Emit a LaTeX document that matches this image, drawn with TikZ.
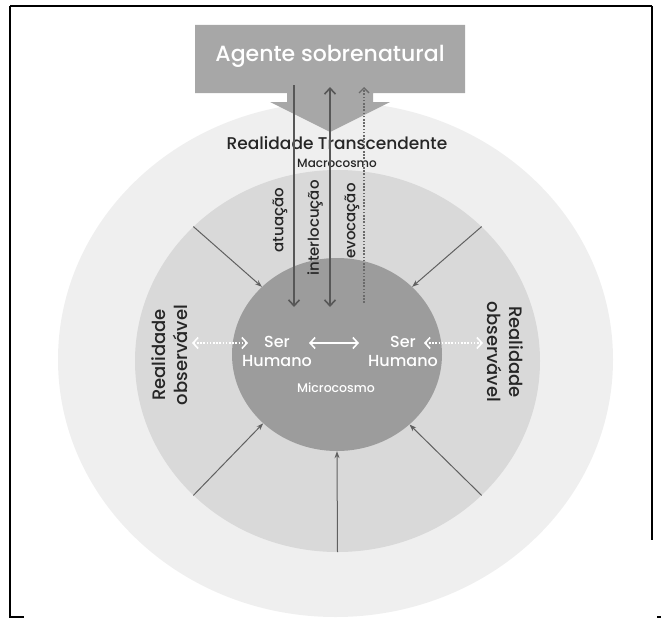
\documentclass[tikz,border=0pt]{standalone}
\usepackage{fontspec}
\setmainfont{Poppins}[UprightFont={* Medium}, BoldFont={* SemiBold}]
\usetikzlibrary{arrows.meta,shapes.geometric}

\definecolor{outerring}{HTML}{EFEFEF}
\definecolor{midring}{HTML}{D9D9D9}
\definecolor{core}{HTML}{9C9C9C}
\definecolor{agentgray}{HTML}{A7A7A7}
\definecolor{darkline}{HTML}{575757}
\definecolor{dotline}{HTML}{6A6A6A}
\definecolor{radialline}{HTML}{606060}
\definecolor{labeltext}{HTML}{262626}

\tikzset{
  ring/.style={ellipse, inner sep=0pt, draw=none},
  flowarrow/.style={draw=darkline, line width=2pt,
    -{Straight Barb[length=6pt, width=11pt, line width=1.6pt]}},
  bothflow/.style={draw=darkline, line width=2pt,
    {Straight Barb[length=6pt, width=11pt, line width=1.6pt]}-{Straight Barb[length=6pt, width=11pt, line width=1.6pt]}},
  dottedflow/.style={draw=dotline, line width=2pt, dash pattern=on 1.6pt off 1.6pt,
    -{Straight Barb[length=5pt, width=10pt, line width=1.4pt]}},
  radial/.style={draw=radialline, line width=1pt, -{Stealth[length=7pt, width=5pt]}},
  whitedot/.style={draw=white, line width=2pt, dash pattern=on 1.6pt off 1.6pt,
    {Straight Barb[length=5pt, width=11pt, line width=1.6pt]}-{Straight Barb[length=5pt, width=11pt, line width=1.6pt]}},
  whitesolid/.style={draw=white, line width=2pt,
    {Straight Barb[length=5pt, width=11pt, line width=1.6pt]}-{Straight Barb[length=5pt, width=11pt, line width=1.6pt]}},
  vlabel/.style={text=labeltext, font=\fontsize{15}{17}\selectfont, inner sep=0pt, rotate=90},
  sidelabel/.style={text=labeltext, font=\fontsize{18}{22}\selectfont, align=center, inner sep=0pt},
  humanlabel/.style={text=white, font=\fontsize{16}{19}\selectfont, align=center, inner sep=0pt},
}

\begin{document}
\begin{tikzpicture}[x=1pt, y=-1pt]
  \useasboundingbox (0,0) rectangle (661,618);

  % frame lines
  \draw[black, line width=2.5pt] (10,6) -- (652,6);
  \draw[black, line width=2pt] (10,6) -- (10,617) -- (24,617);
  \draw[black, line width=2pt] (652,6) -- (652,540);
  \draw[black, line width=1.5pt] (657,617) -- (661,617);

  % concentric rings
  \node[ring, fill=outerring, minimum width=555pt, minimum height=515pt] (macro) at (335.5,359.5) {};
  \node[ring, fill=midring, minimum width=405pt, minimum height=382pt] (mid) at (337.5,361) {};
  \node[ring, fill=core, minimum width=210pt, minimum height=193pt] (micro) at (337,354.5) {};

  % supernatural agent box with its downward arrow
  \fill[agentgray] (195,25) -- (465,25) -- (465,93) -- (373,93) -- (373,102)
    -- (390,102) -- (330,132) -- (270,102) -- (287,102) -- (287,93)
    -- (195,93) -- cycle;
  \node[text=white, font=\fontsize{22}{26}\selectfont, anchor=base] (agent) at (330,62) {Agente sobrenatural};

  % headings
  \node[text=labeltext, font=\fontsize{17}{20}\selectfont, anchor=base] (transc) at (337,149) {Realidade Transcendente};
  \node[text=labeltext, font=\fontsize{12}{14}\selectfont, anchor=base] (macrolabel) at (337,167) {Macrocosmo};

  % radial influences toward the microcosm
  \draw[radial] (mid.137) -- (micro.138);
  \draw[radial] (mid.43) -- (micro.42);
  \draw[radial] (mid.223) -- (micro.223.5);
  \draw[radial] (mid.317) -- (micro.316.5);
  \draw[radial] (mid.270) -- (micro.270);

  % vertical relations with the agent
  \coordinate (actA) at (294,85);
  \coordinate (actB) at (294,307);
  \coordinate (intA) at (330,87);
  \coordinate (intB) at (330,307);
  \coordinate (evoA) at (364,303);
  \coordinate (evoB) at (364,87);
  \draw[flowarrow] (actA) -- (actB);
  \draw[bothflow] (intA) -- (intB);
  \draw[dottedflow] (evoA) -- (evoB);

  \node[vlabel] (atua) at (280,220) {atuação};
  \node[vlabel] (inter) at (315,228) {interlocução};
  \node[vlabel] (evoc) at (352,221) {evocação};

  % observable reality on both sides
  \node[sidelabel, rotate=90] (obsL) at (170,355) {Realidade\\observável};
  \node[sidelabel, rotate=-90] (obsR) at (505,352) {Realidade\\observável};

  % human beings
  \node[humanlabel] (humL) at (277,351) {Ser\\Humano};
  \node[humanlabel] (humR) at (403,351) {Ser\\Humano};
  \node[text=white, font=\fontsize{12.5}{15}\selectfont] (microlabel) at (336,388) {Microcosmo};

  \coordinate (dL1) at (192,343);
  \coordinate (dL2) at (248,343);
  \coordinate (dR1) at (424,343);
  \coordinate (dR2) at (483,343);
  \coordinate (sM1) at (309,343);
  \coordinate (sM2) at (359,343);
  \draw[whitedot] (dL1) -- (dL2);
  \draw[whitesolid] (sM1) -- (sM2);
  \draw[whitedot] (dR1) -- (dR2);
\end{tikzpicture}
\end{document}
